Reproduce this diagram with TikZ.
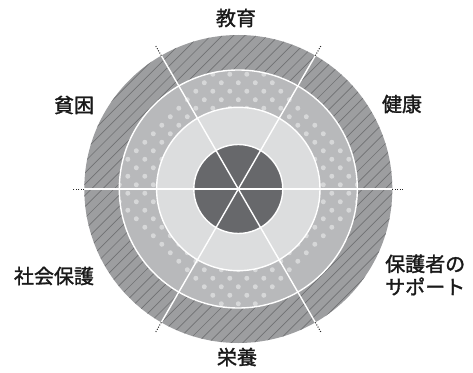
\documentclass[tikz,border=0pt]{standalone}
\usepackage{fontspec}
\newfontfamily\jp[FakeBold=1.5]{Noto Sans CJK JP}
\definecolor{ringA}{HTML}{9D9EA0}
\definecolor{hatchc}{HTML}{707173}
\definecolor{ringB}{HTML}{B8B9BB}
\definecolor{dotc}{HTML}{D6D7D8}
\definecolor{ringC}{HTML}{DCDDDE}
\definecolor{core}{HTML}{67686B}
\begin{document}
\begin{tikzpicture}[x=1pt,y=1pt,
  lbl/.style={font=\jp\fontsize{20}{23}\selectfont, text=black!90, inner sep=0pt},
  sep/.style={white, line width=1.4pt},
  ext/.style={black!85, dash pattern=on 1pt off 1.5pt, line width=1pt}]
\useasboundingbox (-238.3,-183) rectangle (234.7,189);
\fill[white] (-238.3,-183) rectangle (234.7,189);
% outer hatched ring
\fill[ringA] (0,0) circle (154);
\begin{scope}
  \clip (0,0) circle (154);
  \foreach \k in {-30,...,30}
    \draw[hatchc, line width=0.7pt] (-200,{-200+\k*11.3}) -- (200,{200+\k*11.3});
\end{scope}
% dotted ring
\fill[ringB] (0,0) circle (119);
\begin{scope}
  \clip (0,0) circle (119);
  \foreach \a in {-8,...,8}
    \foreach \b in {-8,...,8}
      \fill[dotc] ({(\a+\b)*8.5},{(\a-\b)*8.5+4.25}) circle (2.5);
\end{scope}
% light ring and core
\fill[ringC] (0,0) circle (81.7);
\fill[core] (0,0) circle (44.5);
\draw[sep] (0,0) circle (119);
\draw[sep] (0,0) circle (81.7);
\draw[sep] (0,0) circle (44.5);
% rays
\coordinate (c) at (0,0);
\foreach \ang in {0,60,120,180,240,300}{
  \coordinate (r\ang) at (\ang:154);
  \coordinate (e\ang) at (\ang:166);
  \draw[sep] (c) -- (r\ang);
  \draw[ext] (r\ang) -- (e\ang);
}
% labels
\node[lbl] (edu) at (-2.3,171) {教育};
\node[lbl] (pov) at (-164.3,84) {貧困};
\node[lbl] (hea) at (163.7,85) {健康};
\node[lbl] (soc) at (-184.3,-87) {社会保護};
\node[lbl] (nut) at (-1.3,-168) {栄養};
\node[lbl, anchor=west, align=left] (sup) at (146.7,-86) {保護者の\\サポート};
\end{tikzpicture}
\end{document}
